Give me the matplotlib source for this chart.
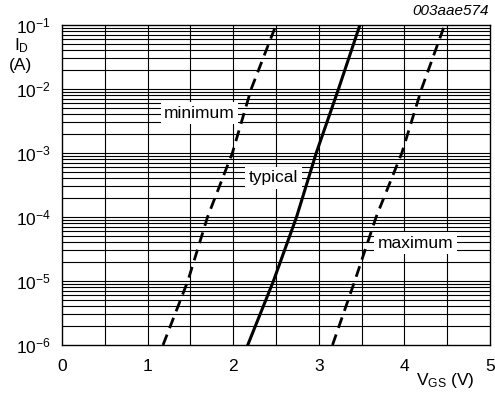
import numpy as np
import matplotlib.pyplot as plt

plt.rcParams['font.family'] = ['Liberation Sans', 'DejaVu Sans']
plt.rcParams['mathtext.fontset'] = 'custom'
plt.rcParams['mathtext.rm'] = 'Liberation Sans'
plt.rcParams['mathtext.it'] = 'Liberation Sans:italic'

# drain current levels (A) and gate voltages
id_levels = [1e-6, 1e-5, 1e-4, 1e-3, 1e-2, 1e-1]
vgs_min = [1.18, 1.47, 1.70, 1.99, 2.21, 2.50]
vgs_typ = [2.17, 2.47, 2.74, 2.97, 3.23, 3.48]
vgs_max = [3.16, 3.42, 3.67, 3.97, 4.20, 4.47]

x_ticks = [0, 1, 2, 3, 4, 5]
y_ticks = [1e-6, 1e-5, 1e-4, 1e-3, 1e-2, 1e-1]
y_labels = ['$10^{-6}$', '$10^{-5}$', '$10^{-4}$', '$10^{-3}$', '$10^{-2}$', '$10^{-1}$']

fig = plt.figure(figsize=(4.95, 3.98), dpi=100)
ax = fig.add_axes([0.1253, 0.1332, 0.8646, 0.804])
ax.set_yscale('log')
ax.set_xlim(0, 5)
ax.set_ylim(1e-6, 1e-1)

# grid: vertical every 0.5 V, horizontal at every 1..9 x decade
for xv in np.arange(0.5, 5.0, 0.5):
    ax.axvline(xv, color='black', lw=0.8, zorder=1)
for dec in range(-6, -1):
    for m in range(1, 10):
        if dec == -6 and m == 1:
            continue
        ax.axhline(m * 10.0 ** dec, color='black', lw=0.8, zorder=1)

ax.plot(vgs_min, id_levels, color='black', lw=2, ls=(0, (4, 2.5)), zorder=3)
ax.plot(vgs_typ, id_levels, color='black', lw=2.2, zorder=3)
ax.plot(vgs_max, id_levels, color='black', lw=2, ls=(0, (4, 2.5)), zorder=3)

box = dict(facecolor='white', edgecolor='none', pad=2.5)
ax.text(2.02, 4.2e-3, 'minimum', fontsize=12.5, ha='right', va='center', bbox=box, zorder=2)
ax.text(2.76, 4.1e-4, 'typical', fontsize=12.5, ha='right', va='center', bbox=box, zorder=2)
ax.text(3.69, 3.9e-5, 'maximum', fontsize=12.5, ha='left', va='center', bbox=box, zorder=2)

ax.set_xticks(x_ticks)
ax.set_yticks(y_ticks)
ax.set_yticklabels(y_labels)
ax.minorticks_off()
ax.tick_params(length=0, labelsize=12.5, pad=10)
ax.tick_params(axis='y', pad=8)
for s in ax.spines.values():
    s.set_linewidth(1.0)

fig.text(0.028, 0.885, '$\\mathregular{I_D}$', fontsize=12.5, ha='left', va='center')
fig.text(0.018, 0.835, '(A)', fontsize=12.5, ha='left', va='center')
fig.text(0.96, 0.045, '$\\mathregular{V_{GS}}$ (V)', fontsize=12.5, ha='right', va='center')
fig.text(0.988, 0.972, '003aae574', fontsize=11, style='italic', ha='right', va='center')

fig.savefig('out.png', dpi=100)
